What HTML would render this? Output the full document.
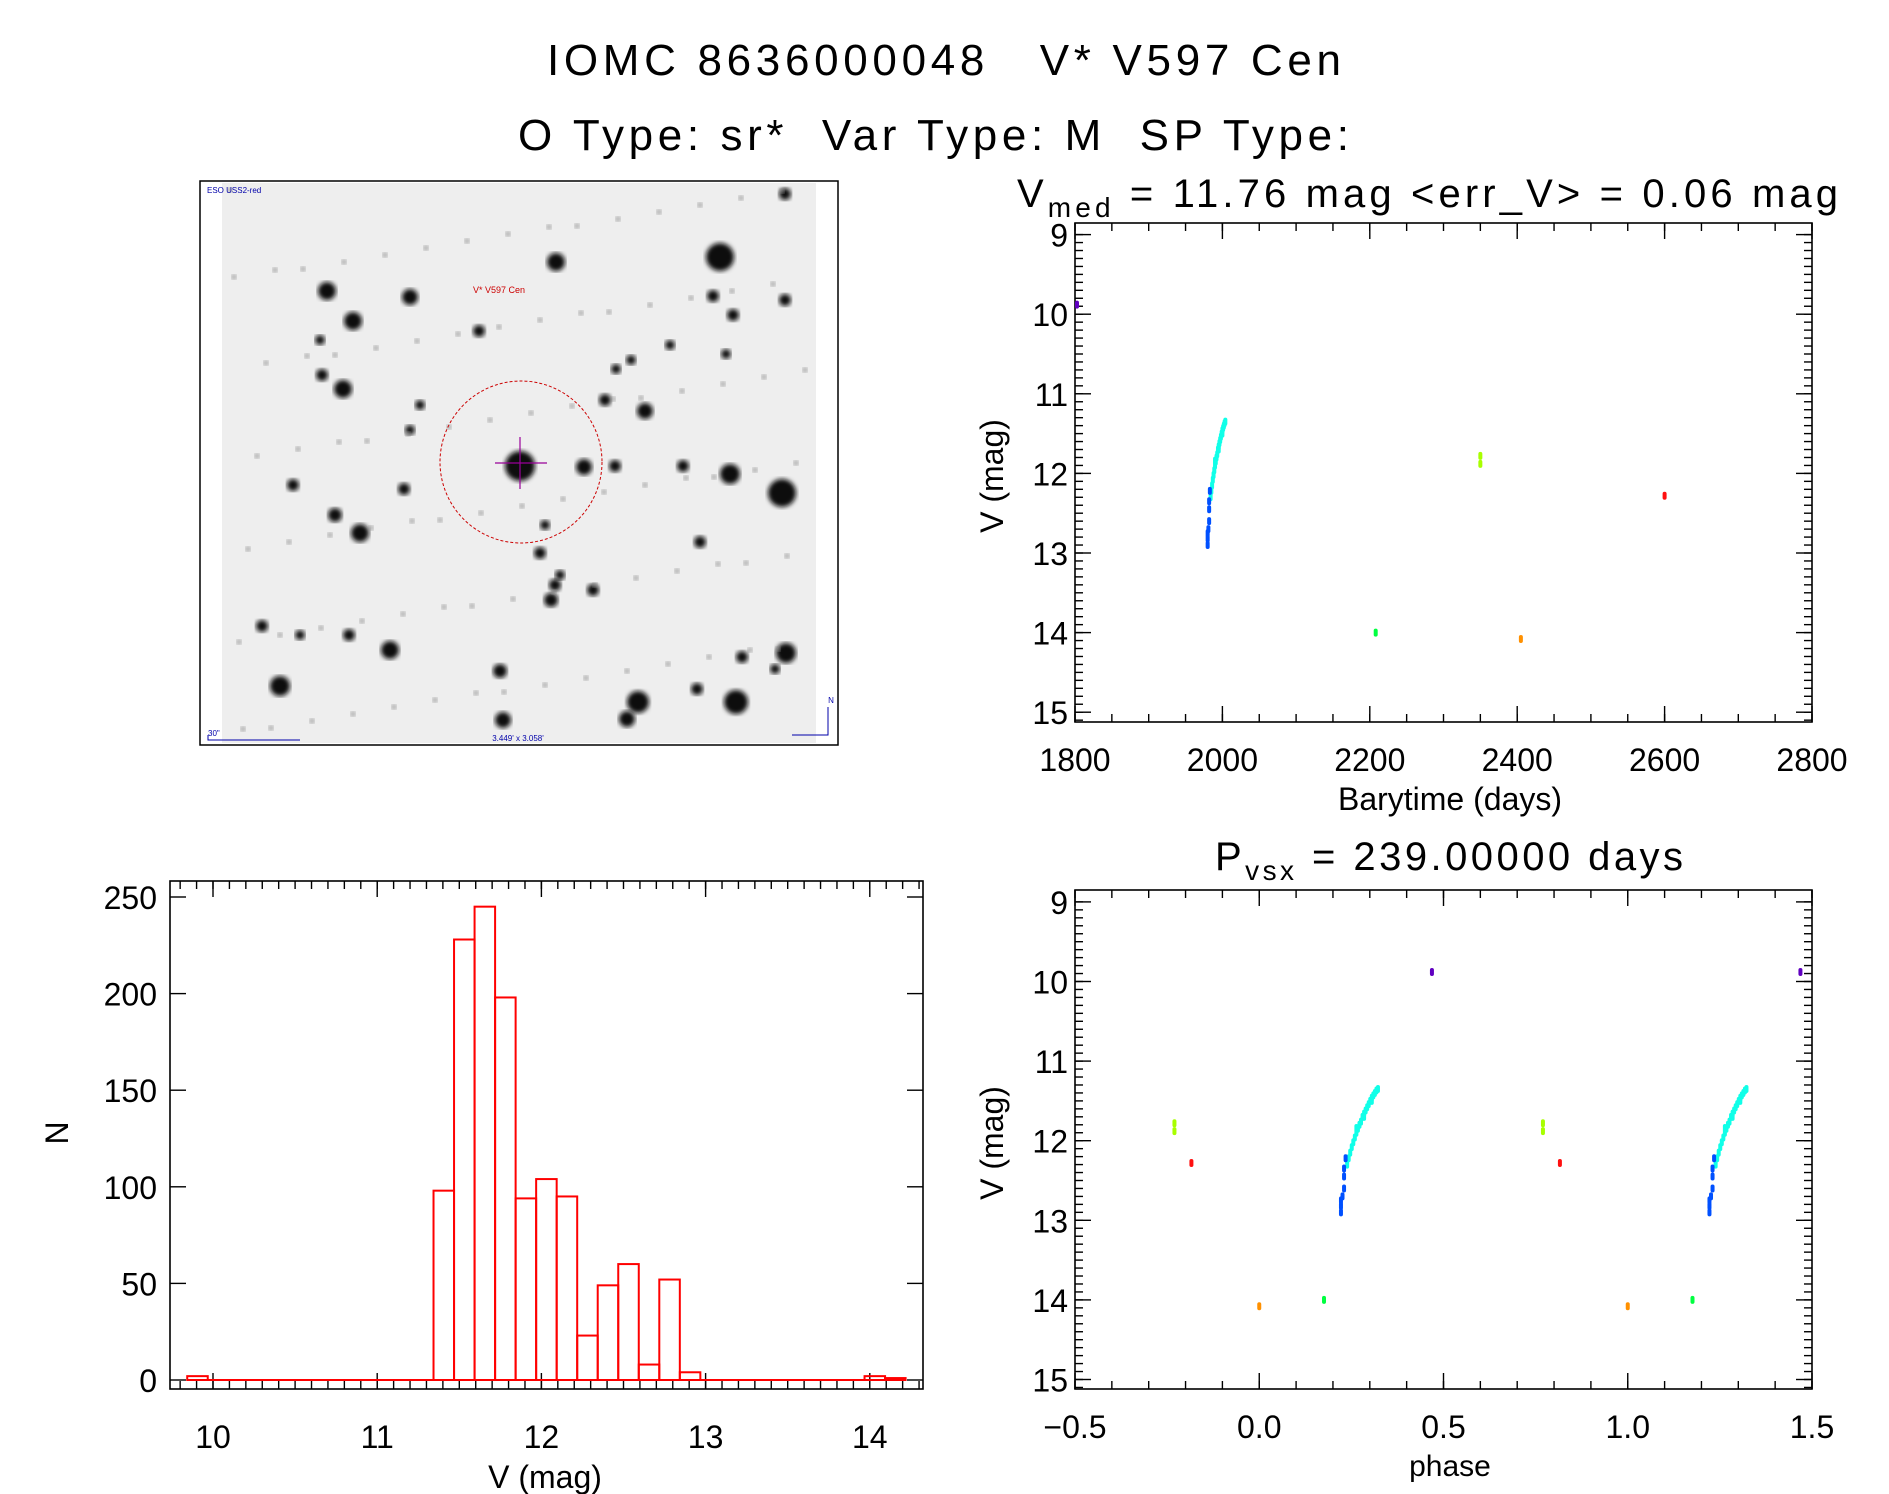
<!DOCTYPE html>
<html><head><meta charset="utf-8"><style>
html,body{margin:0;padding:0;background:#fff;}
svg{display:block;font-family:"Liberation Sans",sans-serif;}
text{white-space:pre;}
</style></head><body>
<svg id="s" width="1889" height="1494" viewBox="0 0 1889 1494" xmlns="http://www.w3.org/2000/svg" xml:space="preserve">
<text x="547" y="75" font-size="44" textLength="794" lengthAdjust="spacing">IOMC 8636000048   V* V597 Cen</text>
<text x="518" y="150" font-size="44" textLength="831" lengthAdjust="spacing">O Type: sr*  Var Type: M  SP Type:</text>
<text x="1017" y="207" font-size="40" textLength="821" lengthAdjust="spacing">V<tspan font-size="28" dy="10">med</tspan><tspan dy="-10"> = 11.76 mag &lt;err_V&gt; = 0.06 mag</tspan></text>
<text x="1215" y="870" font-size="40" textLength="468" lengthAdjust="spacing">P<tspan font-size="28" dy="10">vsx</tspan><tspan dy="-10"> = 239.00000 days</tspan></text>
<g id="img"></g>
<g id="lc"></g>
<g id="ph"></g>
<g id="hi"></g>
</svg>
<script>
// ---- light curve data ----
const cyanT=[1984,1985,1986,1987,1988,1989,1990,1991,1992,1993,1994,1995,1996,1997,1998,1999,2000,2001,2002,2003,2004,1990,1995,2000];
const cyanM=[12.3,12.22,12.15,12.08,12.02,11.96,11.9,11.85,11.8,11.76,11.7,11.66,11.62,11.58,11.54,11.5,11.46,11.43,11.4,11.37,11.35,11.84,11.7,11.5];
const blueT=[1983,1982,1982,1982,1981,1980,1980,1980];
const blueM=[12.22,12.35,12.45,12.6,12.7,12.75,12.82,12.9];
const otherT=[2350,2350,2600,2208,2405,1800];
const otherM=[11.78,11.88,12.28,14.0,14.08,9.88];
const otherC=['#a8ff00','#a8ff00','#ff1010','#00ff40','#ff9000','#6000c0'];
const PERIOD=239, T0=2405;
// ---- histogram data ----
const histStart=9.843, binW=0.125;
const histN=[2,0,0,0,0,0,0,0,0,0,0,0,98,228,245,198,94,104,95,23,49,60,8,52,4,0,0,0,0,0,0,0,0,2,1];
const histXTicks=[10,11,12,13,14];
const histYTicks=[0,50,100,150,200,250];
const lcXTicks=[1800,2000,2200,2400,2600,2800];
const magTicks=[9,10,11,12,13,14,15];
const phTicks=[-0.5,0.0,0.5,1.0,1.5];

const NS='http://www.w3.org/2000/svg';
function el(p,tag,a){const e=document.createElementNS(NS,tag);for(const k in a)e.setAttribute(k,a[k]);p.appendChild(e);return e;}
function txt(p,x,y,s,size,anchor){const t=el(p,'text',{x:x,y:y,'font-size':size,'text-anchor':anchor||'middle'});t.textContent=s;return t;}

// ---- finder image ----
(function(){
 const g=document.getElementById('img');
 el(g,'rect',{x:200,y:181,width:638,height:564,fill:'#fff',stroke:'#000','stroke-width':1.5});
 el(g,'rect',{x:222,y:183,width:594,height:560,fill:'#eeeeee'});
 const defs=el(g,'defs',{});const f=el(defs,'filter',{id:'bl'});el(f,'feGaussianBlur',{stdDeviation:2.5});
 const stars=[[720,257,14],[556,262,9],[782,493,14],[736,702,12],[327,291,9],[353,321,9],[410,297,8],[343,389,9],[520,466,15],[280,686,10],[360,533,9],[335,515,7],[404,489,6],[584,467,8],[645,411,8],[730,474,10],[390,650,9],[503,720,8],[638,702,11],[627,719,8],[786,653,10],[742,657,6],[500,671,7],[551,600,7],[555,585,6],[479,331,6],[713,296,6],[726,354,5],[785,194,6],[785,300,6],[733,315,6],[616,369,5],[631,360,5],[349,635,6],[322,375,6],[293,485,6],[683,466,6],[615,466,6],[540,553,6],[593,590,6],[700,542,6],[697,689,6],[775,669,5],[420,405,5],[560,575,5],[670,345,5],[545,525,5],[262,626,6],[300,635,5],[410,430,5],[605,400,6],[320,340,5]];
 stars.forEach(s=>{el(g,'circle',{cx:s[0],cy:s[1],r:s[2],fill:'#111',filter:'url(#bl)'});});
 for(let i=0;i<90;i++){const x=230+((i*137)%580),y=190+((i*251)%545);el(g,'circle',{cx:x,cy:y,r:2.5,fill:'#888',filter:'url(#bl)'});}
 el(g,'circle',{cx:521,cy:462,r:81,fill:'none',stroke:'#c00','stroke-width':1,'stroke-dasharray':'3,2'});
 el(g,'line',{x1:495,y1:463,x2:547,y2:463,stroke:'#909',"stroke-width":1.2});
 el(g,'line',{x1:520,y1:437,x2:520,y2:489,stroke:'#909',"stroke-width":1.2});
 const t1=txt(g,473,293,'V* V597 Cen',9,'start');t1.setAttribute('fill','#c00');
 const t2=txt(g,207,193,'ESO USS2-red',8,'start');t2.setAttribute('fill','#00a');
 const t3=txt(g,518,741,'3.449\' x 3.058\'',8);t3.setAttribute('fill','#00a');
 const t4=txt(g,208,736,'30"',8,'start');t4.setAttribute('fill','#00a');
 el(g,'polyline',{points:'208,735 208,740 300,740',fill:'none',stroke:'#00a'});
 el(g,'polyline',{points:'828,707 828,735 792,735',fill:'none',stroke:'#00a'});
 const t5=txt(g,831,703,'N',8);t5.setAttribute('fill','#00a');
})();

function ticksX(g,map,vals,y0,y1,len){vals.forEach(v=>{const x=map(v);el(g,'line',{x1:x,y1:y1,x2:x,y2:y1-len,stroke:'#000','stroke-width':1.4});el(g,'line',{x1:x,y1:y0,x2:x,y2:y0+len,stroke:'#000','stroke-width':1.4});});}
function ticksY(g,map,vals,x0,x1,len){vals.forEach(v=>{const y=map(v);el(g,'line',{x1:x0,y1:y,x2:x0+len,y2:y,stroke:'#000','stroke-width':1.4});el(g,'line',{x1:x1,y1:y,x2:x1-len,y2:y,stroke:'#000','stroke-width':1.4});});}
function range(a,b,s){const r=[];for(let v=a;v<=b+1e-9;v+=s)r.push(+v.toFixed(6));return r;}

function dot(g,x,y,c,name){const e=el(g,'rect',{x:x-2,y:y-4,width:4,height:8,rx:2,fill:c});
 
 }

// ---- light curve ----
(function(){
 const g=document.getElementById('lc');
 const X0=1075,X1=1812,Y0=223,Y1=722;
 const xm=t=>X0+(t-1800)/1000*(X1-X0);
 const ym=m=>234.6+(m-9)*79.6;
 el(g,'rect',{x:X0,y:Y0,width:X1-X0,height:Y1-Y0,fill:'none',stroke:'#000','stroke-width':1.6});
 ticksX(g,xm,range(1800,2800,50),Y0,Y1,8);ticksX(g,xm,lcXTicks,Y0,Y1,16);
 ticksY(g,ym,range(9,15.1,0.1),X0,X1,8);ticksY(g,ym,magTicks,X0,X1,16);
 lcXTicks.forEach(v=>txt(g,xm(v),771,String(v),32));
 magTicks.forEach(v=>txt(g,1068,ym(v)+12,String(v),32,'end'));
 txt(g,1450,810,'Barytime (days)',32);
 const yl=txt(g,0,0,'V (mag)',32);yl.setAttribute('transform','translate(1003,476) rotate(-90)');
 cyanT.forEach((t,i)=>dot(g,xm(t),ym(cyanM[i]),'#10ffe8','lc-cyan-point'));
 blueT.forEach((t,i)=>dot(g,xm(t),ym(blueM[i]),'#0050ff','lc-blue-point'));
 otherT.forEach((t,i)=>dot(g,Math.max(xm(t),X0+2),ym(otherM[i]),otherC[i],'lc-point'));
})();

// ---- phase plot ----
(function(){
 const g=document.getElementById('ph');
 const X0=1075,X1=1812,Y0=890,Y1=1389;
 const xm=p=>X0+(p+0.5)/2*(X1-X0);
 const ym=m=>901.9+(m-9)*79.6;
 el(g,'rect',{x:X0,y:Y0,width:X1-X0,height:Y1-Y0,fill:'none',stroke:'#000','stroke-width':1.6});
 ticksX(g,xm,range(-0.5,1.5,0.1),Y0,Y1,8);ticksX(g,xm,phTicks,Y0,Y1,16);
 ticksY(g,ym,range(9,15.1,0.1),X0,X1,8);ticksY(g,ym,magTicks,X0,X1,16);
 phTicks.forEach(v=>txt(g,xm(v),1438,(v<0?'\u2212':'')+Math.abs(v).toFixed(1),32));
 magTicks.forEach(v=>txt(g,1068,ym(v)+12,String(v),32,'end'));
 txt(g,1450,1476,'phase',30);
 const yl=txt(g,0,0,'V (mag)',32);yl.setAttribute('transform','translate(1003,1143) rotate(-90)');
 function plot(T,M,col,name){T.forEach((t,i)=>{let p=((t-T0)/PERIOD)%1;if(p<0)p+=1;[p-1,p,p+1].forEach(q=>{if(q>=-0.5&&q<=1.5)dot(g,xm(q),ym(M[i]),typeof col==='string'?col:col[i],name);});});}
 plot(cyanT,cyanM,'#10ffe8','phase-cyan-point');
 plot(blueT,blueM,'#0050ff','phase-blue-point');
 plot(otherT,otherM,otherC,'phase-point');
})();

// ---- histogram ----
(function(){
 const g=document.getElementById('hi');
 const X0=170,X1=923,Y0=881,Y1=1389;
 const xm=v=>213+(v-10)*164.2;
 const ym=n=>1380-n*1.932;
 el(g,'rect',{x:X0,y:Y0,width:X1-X0,height:Y1-Y0,fill:'none',stroke:'#000','stroke-width':1.6});
 ticksX(g,xm,range(9.8,14.3,0.1),Y0,Y1,8);ticksX(g,xm,histXTicks,Y0,Y1,16);
 ticksY(g,ym,histYTicks,X0,X1,16);
 histXTicks.forEach(v=>txt(g,xm(v),1448,String(v),32));
 histYTicks.forEach(v=>txt(g,157,ym(v)+12,String(v),32,'end'));
 txt(g,545,1488,'V (mag)',32);
 const yl=txt(g,0,0,'N',32);yl.setAttribute('transform','translate(68,1133) rotate(-90)');
 el(g,'line',{x1:xm(histStart),y1:ym(0),x2:xm(histStart+histN.length*binW),y2:ym(0),stroke:'#ff0000','stroke-width':2});
 histN.forEach((n,i)=>{if(n<=0)return;const a=xm(histStart+i*binW),b=xm(histStart+(i+1)*binW);
  const r=el(g,'rect',{x:a,y:ym(n),width:b-a,height:ym(0)-ym(n),fill:'none',stroke:'#ff0000','stroke-width':2});
  
  });
})();
</script>
</body></html>
